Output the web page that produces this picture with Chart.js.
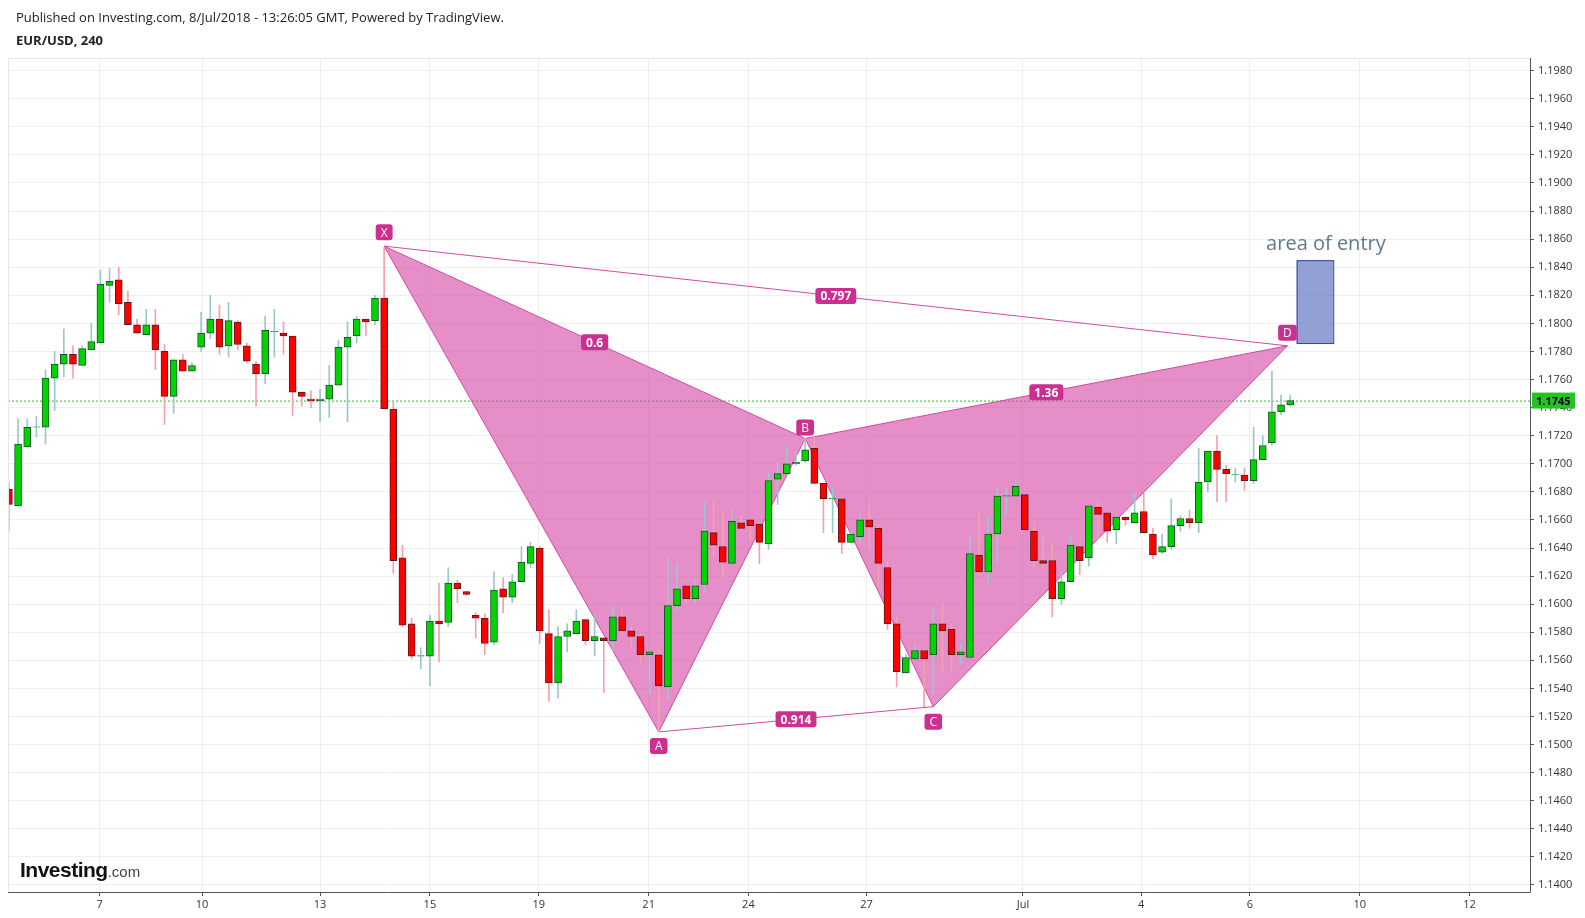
<!DOCTYPE html>
<html><head><meta charset="utf-8">
<script src="https://cdn.jsdelivr.net/npm/chart.js@4.4.1/dist/chart.umd.min.js"></script>
<style>
html,body{margin:0;padding:0;background:#fff;overflow:hidden;font-family:"Open Sans",Arial,sans-serif}
#c{position:absolute;left:0;top:0}
#t1{position:absolute;left:16px;top:8px;font-size:13px;color:#222}
#t2{position:absolute;left:16px;top:31px;font-size:13px;font-weight:bold;color:#222}
#logo{position:absolute;left:20px;top:858px;font-family:Arial,sans-serif;color:#111}
</style></head><body>
<canvas id="c" width="1585" height="918" style="width:1585px;height:918px"></canvas>
<div id="t1">Published on Investing.com, 8/Jul/2018 - 13:26:05 GMT, Powered by TradingView.</div>
<div id="t2">EUR/USD, 240</div>
<div id="logo"><span style="font-size:21px;font-weight:bold;letter-spacing:-0.5px">Investing</span><span style="font-size:15px;color:#444">.com</span></div>
<script>
const opens=[1.1682,1.1670,1.1712,1.1726,1.1726,1.1761,1.1771,1.1778,1.1770,1.1781,1.1786,1.1827,1.1831,1.1815,1.1799,1.1792,1.1799,1.1780,1.1748,1.1774,1.1766,1.1783,1.1793,1.1803,1.1784,1.1801,1.1784,1.1771,1.1764,1.1794,1.1793,1.1791,1.1751,1.1746,1.1745,1.1746,1.1756,1.1783,1.1791,1.1803,1.1802,1.1818,1.1739,1.1633,1.1586,1.1563,1.1563,1.1588,1.1587,1.1615,1.1609,1.1592,1.1590,1.1573,1.1611,1.1605,1.1616,1.1629,1.1640,1.1579,1.1544,1.1577,1.1579,1.1589,1.1574,1.1576,1.1574,1.1591,1.1581,1.1577,1.1564,1.1564,1.1541,1.1599,1.1613,1.1604,1.1614,1.1651,1.1641,1.1629,1.1658,1.1660,1.1657,1.1643,1.1689,1.1693,1.1700,1.1702,1.1711,1.1686,1.1675,1.1675,1.1644,1.1648,1.1660,1.1654,1.1626,1.1586,1.1551,1.1561,1.1567,1.1564,1.1586,1.1582,1.1564,1.1562,1.1635,1.1623,1.1650,1.1677,1.1677,1.1678,1.1652,1.1631,1.1631,1.1604,1.1616,1.1641,1.1633,1.1669,1.1665,1.1653,1.1662,1.1658,1.1666,1.1650,1.1637,1.1641,1.1656,1.1661,1.1658,1.1687,1.1709,1.1696,1.1692,1.1692,1.1688,1.1703,1.1715,1.1737,1.1742];
const highs=[1.1687,1.1732,1.1732,1.1734,1.1767,1.1780,1.1796,1.1784,1.1784,1.1800,1.1838,1.1839,1.1840,1.1823,1.1803,1.1810,1.1810,1.1785,1.1774,1.1778,1.1772,1.1808,1.1820,1.1813,1.1815,1.1802,1.1786,1.1773,1.1805,1.1810,1.1801,1.1791,1.1751,1.1752,1.1753,1.1770,1.1788,1.1801,1.1805,1.1803,1.1820,1.1854,1.1744,1.1642,1.1590,1.1569,1.1592,1.1615,1.1626,1.1617,1.1609,1.1594,1.1593,1.1623,1.1619,1.1621,1.1641,1.1644,1.1641,1.1596,1.1584,1.1586,1.1596,1.1589,1.1593,1.1576,1.1599,1.1596,1.1584,1.1579,1.1566,1.1568,1.1633,1.1629,1.1613,1.1618,1.1673,1.1675,1.1666,1.1667,1.1663,1.1660,1.1657,1.1693,1.1701,1.1713,1.1708,1.1718,1.1719,1.1686,1.1683,1.1677,1.1652,1.1664,1.1672,1.1657,1.1631,1.1591,1.1564,1.1572,1.1568,1.1598,1.1601,1.1586,1.1572,1.1650,1.1666,1.1662,1.1683,1.1683,1.1690,1.1678,1.1658,1.1648,1.1643,1.1623,1.1648,1.1644,1.1670,1.1673,1.1667,1.1662,1.1662,1.1679,1.1679,1.1654,1.1650,1.1675,1.1663,1.1667,1.1711,1.1709,1.1720,1.1699,1.1697,1.1697,1.1726,1.1720,1.1766,1.1749,1.1749];
const lows=[1.1652,1.1670,1.1712,1.1719,1.1714,1.1738,1.1762,1.1761,1.1770,1.1781,1.1786,1.1815,1.1806,1.1799,1.1793,1.1792,1.1767,1.1728,1.1736,1.1766,1.1766,1.1780,1.1789,1.1778,1.1776,1.1781,1.1772,1.1741,1.1757,1.1776,1.1778,1.1734,1.1741,1.1740,1.1730,1.1733,1.1756,1.1730,1.1786,1.1791,1.1799,1.1739,1.1622,1.1584,1.1561,1.1554,1.1542,1.1559,1.1584,1.1601,1.1606,1.1576,1.1564,1.1571,1.1594,1.1601,1.1616,1.1626,1.1572,1.1531,1.1533,1.1566,1.1579,1.1571,1.1563,1.1537,1.1567,1.1578,1.1570,1.1559,1.1536,1.1509,1.1532,1.1595,1.1601,1.1601,1.1609,1.1634,1.1619,1.1629,1.1654,1.1646,1.1629,1.1639,1.1671,1.1693,1.1699,1.1701,1.1686,1.1651,1.1651,1.1636,1.1644,1.1644,1.1640,1.1612,1.1582,1.1541,1.1551,1.1561,1.1527,1.1535,1.1551,1.1551,1.1558,1.1562,1.1621,1.1614,1.1629,1.1664,1.1677,1.1653,1.1626,1.1626,1.1591,1.1600,1.1616,1.1621,1.1627,1.1646,1.1644,1.1643,1.1656,1.1658,1.1651,1.1632,1.1636,1.1639,1.1652,1.1654,1.1651,1.1680,1.1673,1.1673,1.1687,1.1681,1.1686,1.1703,1.1713,1.1735,1.1741];
const closes=[1.1671,1.1714,1.1726,1.1726,1.1761,1.1771,1.1778,1.1771,1.1782,1.1787,1.1828,1.1830,1.1814,1.1799,1.1793,1.1799,1.1781,1.1748,1.1774,1.1766,1.1770,1.1793,1.1803,1.1783,1.1802,1.1785,1.1773,1.1764,1.1795,1.1794,1.1791,1.1751,1.1748,1.1745,1.1746,1.1756,1.1783,1.1790,1.1803,1.1801,1.1818,1.1739,1.1631,1.1585,1.1563,1.1563,1.1588,1.1586,1.1615,1.1611,1.1607,1.1590,1.1572,1.1610,1.1605,1.1616,1.1630,1.1641,1.1581,1.1544,1.1577,1.1581,1.1588,1.1574,1.1577,1.1574,1.1591,1.1581,1.1577,1.1564,1.1566,1.1542,1.1599,1.1611,1.1604,1.1613,1.1652,1.1642,1.1630,1.1659,1.1654,1.1656,1.1644,1.1688,1.1693,1.1700,1.1701,1.1710,1.1686,1.1675,1.1675,1.1644,1.1650,1.1660,1.1655,1.1629,1.1586,1.1552,1.1562,1.1567,1.1561,1.1586,1.1581,1.1564,1.1566,1.1636,1.1623,1.1650,1.1677,1.1677,1.1684,1.1653,1.1631,1.1629,1.1604,1.1616,1.1642,1.1631,1.1670,1.1664,1.1652,1.1662,1.1660,1.1665,1.1651,1.1635,1.1641,1.1656,1.1661,1.1658,1.1687,1.1709,1.1696,1.1693,1.1692,1.1688,1.1703,1.1713,1.1737,1.1742,1.1745];
// harmonic pattern points [index, price]
const patternNames=['X','A','B','C','D'];
const patternX=[42,72,88,102,140.7];
const patternY=[1.1855,1.1509,1.1718,1.1527,1.1784];
const ratioLabels=['0.6','0.797','1.36','0.914'];
const lastPrice=1.1745;
const entryBox=[141.7,145.7,1.1786,1.1845];
const xTickVals=[10.9,22.1,35,47,58.9,70.9,81.8,94.7,111.8,124.7,136.6,148.6,160.6];
const xTickLabels=['7','10','13','15','19','21','24','27','Jul','4','6','10','12'];

const idx=opens.map((_,i)=>i+1);
const up=opens.map((o,i)=>closes[i]>=o);
const bodyData=idx.map((x,i)=>({x:x,y:[opens[i],closes[i]===opens[i]?closes[i]+0.00003:closes[i]]}));
const wickData=idx.map((x,i)=>({x:x,y:[lows[i],highs[i]]}));
const P=i=>({x:patternX[i],y:patternY[i]});
const pink='rgba(212,66,163,0.6)',pinkLine='#d04aa3';

const overlay={id:'overlay',
 beforeDatasetsDraw(ch){const {ctx,chartArea:a,scales:{x,y}}=ch;
   const yy=y.getPixelForValue(lastPrice);
   ctx.save();ctx.strokeStyle='#2db82d';ctx.lineWidth=1;ctx.setLineDash([2,2]);
   ctx.beginPath();ctx.moveTo(a.left,yy+0.5);ctx.lineTo(a.right,yy+0.5);ctx.stroke();ctx.restore();},
 afterDatasetsDraw(ch){const {ctx,chartArea:a,scales:{x,y}}=ch;
   ctx.save();
   const bx0=x.getPixelForValue(entryBox[0]),bx1=x.getPixelForValue(entryBox[1]);
   const by0=y.getPixelForValue(entryBox[3]),by1=y.getPixelForValue(entryBox[2]);
   ctx.fillStyle='rgba(110,128,196,0.75)';ctx.fillRect(bx0,by0,bx1-bx0,by1-by0);
   ctx.strokeStyle='#34449a';ctx.lineWidth=1;ctx.strokeRect(bx0+0.5,by0+0.5,bx1-bx0,by1-by0);
   ctx.fillStyle='#5d7a8e';ctx.font='20px "Open Sans"';ctx.textAlign='center';ctx.textBaseline='middle';
   ctx.fillText('area of entry',x.getPixelForValue(144.9),y.getPixelForValue(1.18565));
   const box=(txt,cx,cy,font)=>{ctx.font=font;const w=ctx.measureText(txt).width+10,h=16;
     ctx.fillStyle='#cc2f90';ctx.beginPath();ctx.roundRect(cx-w/2,cy-h/2,w,h,3);ctx.fill();
     ctx.fillStyle='#fff';ctx.textAlign='center';ctx.textBaseline='middle';ctx.fillText(txt,cx,cy+1);};
   const px=patternX.map(v=>x.getPixelForValue(v)),py=patternY.map(v=>y.getPixelForValue(v));
   const offs=[-14,14,-11,15,-13];
   patternNames.forEach((n,i)=>box(n,px[i],py[i]+offs[i],'12px "Open Sans"'));
   const pairs=[[0,2],[0,4],[2,4],[1,3]];
   pairs.forEach((p,k)=>box(ratioLabels[k],(px[p[0]]+px[p[1]])/2,(py[p[0]]+py[p[1]])/2,'bold 12px "Open Sans"'));
   const yy=y.getPixelForValue(lastPrice);
   ctx.fillStyle='#22c322';ctx.fillRect(a.right+2,yy-8,43,16);
   ctx.fillStyle='#000';ctx.font='bold 11px "Open Sans"';ctx.textAlign='left';ctx.fillText(lastPrice.toFixed(4),a.right+6,yy+1);
   ctx.strokeStyle='#e6e6e6';ctx.beginPath();ctx.moveTo(a.left+0.5,a.bottom);ctx.lineTo(a.left+0.5,a.top+0.5);ctx.lineTo(a.right,a.top+0.5);ctx.stroke();
   ctx.strokeStyle='#555';ctx.beginPath();ctx.moveTo(a.left,a.bottom+0.5);ctx.lineTo(a.right+0.5,a.bottom+0.5);ctx.lineTo(a.right+0.5,a.top);ctx.stroke();
   ctx.restore();}
};

new Chart(document.getElementById('c'),{
 data:{datasets:[
  {type:'bar',data:wickData,backgroundColor:up.map(u=>u?'#9cc7cc':'#f3a2ab'),barThickness:1,grouped:false,order:3},
  {type:'bar',data:bodyData,backgroundColor:up.map(u=>u?'#00d400':'#ff0000'),borderColor:up.map(u=>u?'#1e4d2b':'#5b1a1a'),borderWidth:1,borderSkipped:false,barThickness:7,grouped:false,order:2},
  {type:'line',data:[P(0),P(1),P(2),P(0)],backgroundColor:pink,borderColor:pinkLine,borderWidth:1,fill:'shape',pointRadius:0,tension:0,order:5},
  {type:'line',data:[P(2),P(3),P(4),P(2)],backgroundColor:pink,borderColor:pinkLine,borderWidth:1,fill:'shape',pointRadius:0,tension:0,order:5},
  {type:'line',data:[P(0),P(4)],borderColor:pinkLine,borderWidth:1,fill:false,pointRadius:0,order:5},
  {type:'line',data:[P(1),P(3)],borderColor:pinkLine,borderWidth:1,fill:false,pointRadius:0,order:5}
 ]},
 options:{responsive:false,animation:false,devicePixelRatio:1,
  layout:{padding:{top:58,left:8,right:-15,bottom:-8}},
  plugins:{legend:{display:false},tooltip:{enabled:false}},
  scales:{
   x:{type:'linear',min:0.9,max:167.2,offset:false,
      grid:{color:'#efefef',offset:false,drawTicks:true,tickLength:4,tickColor:'#555'},border:{display:false},
      afterBuildTicks(s){s.ticks=xTickVals.map(v=>({value:v}));},
      afterFit(s){s.height=34;},
      ticks:{font:{size:11,family:'"Open Sans"'},color:'#333',maxRotation:0,autoSkip:false,padding:2,
        callback:(v,i)=>xTickLabels[i]}},
   y:{position:'right',min:1.1395,max:1.1989,
      grid:{color:'#efefef',tickLength:4,tickColor:'#555'},border:{display:false},
      afterBuildTicks(s){const t=[];for(let k=0;k<=29;k++)t.push({value:+(1.14+k*0.002).toFixed(4)});s.ticks=t;},
      afterFit(s){s.width=70;},
      ticks:{font:{size:11,family:'"Open Sans"'},color:'#333',padding:4,callback:v=>v.toFixed(4)}}
  }},
 plugins:[overlay]
});
</script></body></html>
